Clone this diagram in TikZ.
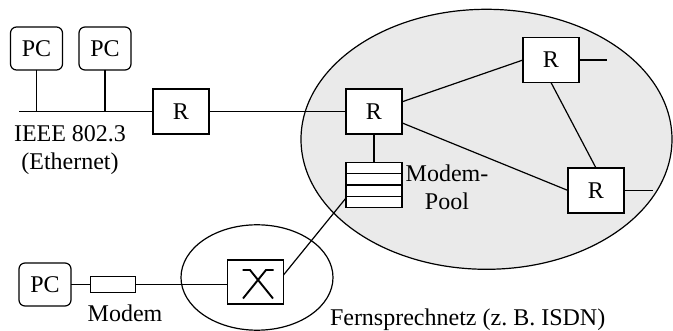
\documentclass[tikz,border=0pt]{standalone}
\usepackage{fontspec}
\setmainfont{Liberation Serif}
\usetikzlibrary{calc}
\definecolor{netgray}{RGB}{234,234,234}
\tikzset{
  base/.style={inner sep=0pt, outer sep=0pt, font=\fontsize{24}{28}\selectfont},
  pcbox/.style={base, draw, fill=white, rounded corners=6pt, minimum width=52pt, minimum height=43pt},
  rbox/.style={base, draw, fill=white, minimum width=56pt, minimum height=45pt},
  modembox/.style={base, draw, fill=white, minimum width=45pt, minimum height=16pt},
  lbl/.style={base, align=center},
  conn/.style={line width=1.2pt},
  xsym/.style={line width=1.9pt},
}
\begin{document}
\begin{tikzpicture}[x=1pt,y=-1pt, line width=1.2pt]
\useasboundingbox (0,0) rectangle (673,331);
% networks
\draw[fill=netgray] (486.5,139.3) ellipse [x radius=185.5pt, y radius=130pt];
\draw (257,277.5) ellipse [x radius=76pt, y radius=52.7pt];

% Ethernet
\node[pcbox] (pc1) at (36.5,48.5) {PC};
\node[pcbox] (pc2) at (105,48.5) {PC};
\node[rbox] (r1) at (181,111.5) {R};
\coordinate (ethstart) at (19,111.5);
\draw[conn] (ethstart) -- (r1.west);
\draw[conn] (pc1.south) -- (pc1.south |- r1.west);
\draw[conn] (pc2.south) -- (pc2.south |- r1.west);
\node[lbl, anchor=base] (eth) at (70,170) {IEEE 802.3\\(Ethernet)};

% routers
\node[rbox] (r2) at (374,111.5) {R};
\node[rbox] (r3) at (551,60) {R};
\node[rbox] (r4) at (596,190.5) {R};
\draw[conn] (r1.east) -- (r2.west);
\draw[conn] (r2) -- (r3.west);
\draw[conn] (r2) -- (r4.west);
\draw[conn] (r3.south) -- (r4.north);
\coordinate (r3stub) at ($(r3.east)+(28,0)$);
\coordinate (r4stub) at ($(r4.east)+(29,0)$);
\draw[conn] (r3.east) -- (r3stub);
\draw[conn] (r4.east) -- (r4stub);

% modem pool
\node[rbox] (pool) at (374,185) {};
\foreach \k in {1,2,3}
  \draw ($(pool.north west)+(0,11.25*\k)$) -- ($(pool.north east)+(0,11.25*\k)$);
\draw[conn] (r2.south) -- (pool.north);
\node[lbl, anchor=base] (pooltxt) at (447,210) {Modem-\\Pool};

% telephone network
\node[pcbox] (pc3) at (45,284.5) {PC};
\node[modembox] (modem) at (113,284.5) {};
\node[rbox, minimum height=44pt] (sw) at (255.5,282) {};
\draw[xsym] ($(sw)+(-13,-12)$) -- ($(sw)+(-5.5,-12)$) -- ($(sw)+(17.5,16.5)$);
\draw[xsym] ($(sw)+(18,-12)$) -- ($(sw)+(10.5,-12)$) -- ($(sw)+(-12.5,16.5)$);
\draw[conn] (pc3.east) -- (modem.west);
\draw[conn] (modem.east) -- (modem.east -| sw.west);
\draw[conn] ($(sw.east)+(0,-7)$) -- ($(pool.west)+(0,13)$);
\node[base, anchor=base] (modemtxt) at (125,321.7) {Modem};
\node[base, anchor=base west] (isdn) at (330,325.7) {Fernsprechnetz (z.\ B. ISDN)};
\end{tikzpicture}
\end{document}
